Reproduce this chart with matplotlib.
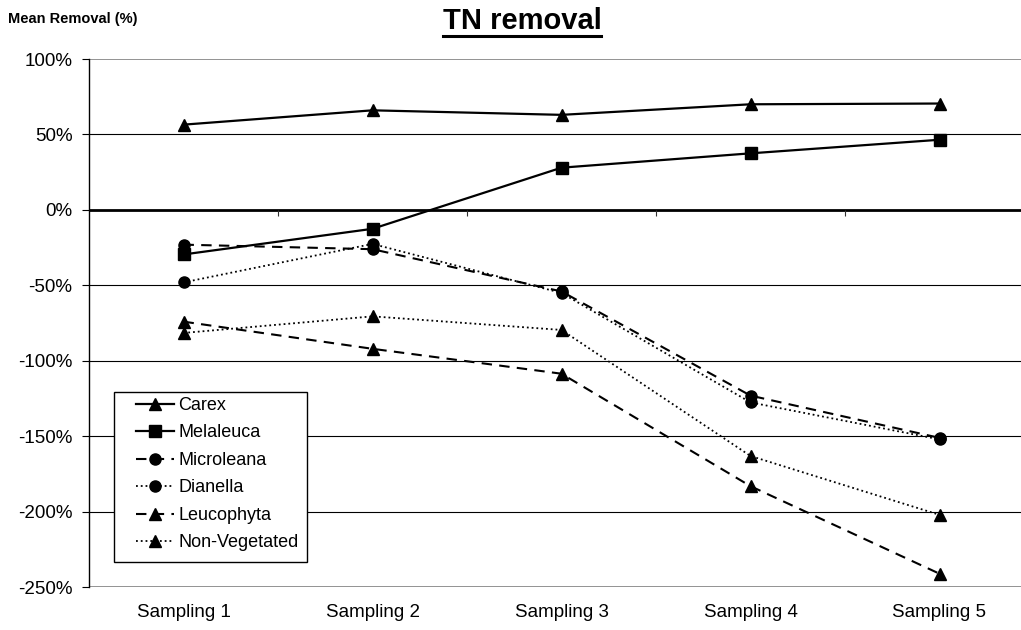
import matplotlib
matplotlib.use("Agg")
import matplotlib.pyplot as plt
from matplotlib.ticker import PercentFormatter
from matplotlib.patches import Rectangle

plt.rcParams['font.family'] = ['Liberation Sans', 'DejaVu Sans']
plt.rcParams['axes.unicode_minus'] = False

categories = ["Sampling 1", "Sampling 2", "Sampling 3", "Sampling 4", "Sampling 5"]
carex = [56.5, 66, 63, 70, 70.5]
melaleuca = [-29.5, -12.5, 28, 37.5, 46.5]
microleana = [-23, -26, -54, -123, -151]
dianella = [-48, -22.5, -55, -127.5, -152]
leucophyta = [-74, -92, -108.5, -183, -241]
non_vegetated = [-81.5, -70.5, -79.5, -163, -202]
y_ticks = [100, 50, 0, -50, -100, -150, -200, -250]

W, H = 1021, 630
fig = plt.figure(figsize=(W / 100, H / 100), dpi=100)
left_px, top_px, bottom_px = 89, 59, 587.3
ax = fig.add_axes([left_px / W, 1 - bottom_px / H, 1 - left_px / W, (bottom_px - top_px) / H])

x = list(range(1, len(categories) + 1))
step = 189.0
ax.set_xlim(0.5, 0.5 + (W - left_px) / step)
ax.set_ylim(-250, 100)

# grid
for v in y_ticks:
    if v in (100, -250):
        ax.axhline(v, color='#808080', lw=1.2, zorder=1)
    elif v == 0:
        ax.axhline(v, color='black', lw=2.0, zorder=1)
    else:
        ax.axhline(v, color='black', lw=0.8, zorder=1)
# category boundary ticks on the zero line
ax.vlines([i + 0.5 for i in x[:-1]], -4, 0, color='#333333', lw=0.8, zorder=1)

common = dict(color='black', zorder=3)
ax.plot(x, carex, '-', marker='^', ms=8.5, lw=1.6, label='Carex', **common)
ax.plot(x, melaleuca, '-', marker='s', ms=8, lw=1.6, label='Melaleuca', **common)
ax.plot(x, microleana, '--', marker='o', ms=8, lw=1.5, dashes=(5, 3.5), label='Microleana', **common)
ax.plot(x, dianella, ':', marker='o', ms=8, lw=1.3, label='Dianella', **common)
ax.plot(x, leucophyta, '--', marker='^', ms=8.5, lw=1.5, dashes=(5, 3.5), label='Leucophyta', **common)
ax.plot(x, non_vegetated, ':', marker='^', ms=8.5, lw=1.3, label='Non-Vegetated', **common)

for s in ('top', 'right', 'bottom'):
    ax.spines[s].set_visible(False)
ax.spines['left'].set_linewidth(1.0)

ax.set_yticks(y_ticks)
ax.yaxis.set_major_formatter(PercentFormatter(decimals=0))
ax.tick_params(axis='y', direction='out', length=5, width=0.8, labelsize=13.5, pad=7)
ax.set_xticks(x)
ax.set_xticklabels(categories)
ax.tick_params(axis='x', length=0, labelsize=13.5, pad=12)

# legend (frame drawn separately)
ax_w_px = W - left_px
ax_h_px = bottom_px - top_px
leg = ax.legend(loc='upper left',
                bbox_to_anchor=((136 - left_px) / ax_w_px, 1 - (397 - top_px) / ax_h_px),
                fontsize=13, frameon=False, handlelength=2.1, handletextpad=0.25,
                labelspacing=0.58, borderpad=0, borderaxespad=0)
frame = Rectangle((114 / W, 1 - 561.5 / H), (307 - 114) / W, (561.5 - 391.5) / H,
                  transform=fig.transFigure, facecolor='white', edgecolor='black', lw=1.0, zorder=4)
ax.add_artist(frame)
frame.set_transform(fig.transFigure)
leg.set_zorder(5)

fig.text(8 / W, 1 - 19 / H, "Mean Removal (%)", fontsize=10.5, fontweight='bold', ha='left', va='center')
title = fig.text(522 / W, 1 - 21 / H, "TN removal", fontsize=21, fontweight='bold', ha='center', va='center')
# underline
fig.canvas.draw()
bb = title.get_window_extent()
fig.add_artist(plt.Line2D([bb.x0 / W, bb.x1 / W], [(bb.y0 - 1) / H, (bb.y0 - 1) / H], color='black', lw=2.2,
                          transform=fig.transFigure))

fig.savefig("out.png", dpi=100)
